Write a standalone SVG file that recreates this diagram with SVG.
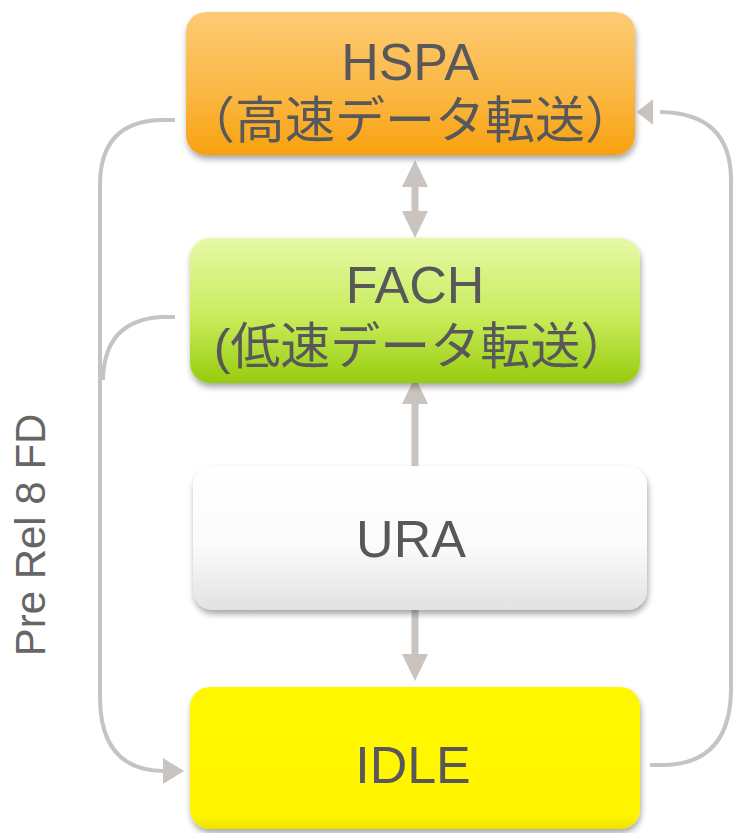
<svg xmlns="http://www.w3.org/2000/svg" width="734" height="833" viewBox="0 0 734 833">
  <defs>
    <style>
      .label { font-family: "Liberation Sans", "Noto Sans CJK JP", sans-serif; fill: #58585a; text-anchor: middle; }
      .big { font-size: 52px; }
      .jp { font-size: 50px; }
      .side { font-family: "Liberation Sans", sans-serif; font-size: 42px; fill: #666666; text-anchor: middle; }
      .wire { fill: none; stroke: #c4c4c4; stroke-width: 4; }
      .shaft { fill: none; stroke: #c9c4bf; stroke-width: 7; }
      .head { fill: #c9c4bf; }
    </style>
    <linearGradient id="gHspa" x1="0" y1="0" x2="0" y2="1">
      <stop offset="0" stop-color="#fdcb74"/>
      <stop offset="0.6" stop-color="#fbb640"/>
      <stop offset="1" stop-color="#f7a10f"/>
    </linearGradient>
    <linearGradient id="gFach" x1="0" y1="0" x2="0" y2="1">
      <stop offset="0" stop-color="#e6f9a6"/>
      <stop offset="0.55" stop-color="#c8ec5a"/>
      <stop offset="1" stop-color="#97cc0e"/>
    </linearGradient>
    <linearGradient id="gUra" x1="0" y1="0" x2="0" y2="1">
      <stop offset="0" stop-color="#ffffff"/>
      <stop offset="0.55" stop-color="#fbfbfb"/>
      <stop offset="1" stop-color="#e2e2e2"/>
    </linearGradient>
    <linearGradient id="gIdle" x1="0" y1="0" x2="0" y2="1">
      <stop offset="0" stop-color="#fff700"/>
      <stop offset="0.9" stop-color="#fff500"/>
      <stop offset="1" stop-color="#efe300"/>
    </linearGradient>
    <filter id="shadow" x="-10%" y="-10%" width="120%" height="130%">
      <feGaussianBlur in="SourceAlpha" stdDeviation="3"/>
      <feOffset dx="1" dy="4" result="b"/>
      <feComponentTransfer><feFuncA type="linear" slope="0.35"/></feComponentTransfer>
      <feMerge><feMergeNode/><feMergeNode in="SourceGraphic"/></feMerge>
    </filter>
  </defs>

  <rect width="734" height="833" fill="#ffffff"/>

  <!-- connectors -->
  <g id="connectors">
    <!-- HSPA left side down to IDLE -->
    <path class="wire" d="M175,120 L160,120 Q100,122 100,185 L100,697 Q100,770 163,771"/>
    <!-- FACH left side joining the trunk -->
    <path class="wire" d="M175,317 L162,317 Q104,320 103,380"/>
    <polygon class="head" points="184,771 163,758 163,784"/>
    <!-- IDLE right side back up to HSPA -->
    <path class="wire" d="M650,765 L665,765 Q731,763 731,688 L731,180 Q731,113 660,112"/>
    <polygon class="head" points="637,112 653,99 653,125"/>
    <!-- HSPA <-> FACH -->
    <line class="shaft" x1="415" y1="180" x2="415" y2="220"/>
    <polygon class="head" points="415,160 402,187 428,187"/>
    <polygon class="head" points="415,238 402,211 428,211"/>
    <!-- URA -> FACH -->
    <line class="shaft" x1="415" y1="400" x2="415" y2="467"/>
    <polygon class="head" points="415,377 402,404 428,404"/>
    <!-- URA -> IDLE -->
    <line class="shaft" x1="415" y1="610" x2="415" y2="660"/>
    <polygon class="head" points="415,681 402,654 428,654"/>
  </g>

  <g id="hspa">
    <rect x="186" y="12" width="449" height="143" rx="20" fill="url(#gHspa)" filter="url(#shadow)"/>
    <text class="label big" x="410" y="80">HSPA</text>
    <text class="label jp" x="410" y="138">（高速データ転送）</text>
  </g>

  <g id="fach">
    <rect x="190" y="238" width="450" height="145" rx="20" fill="url(#gFach)" filter="url(#shadow)"/>
    <text class="label big" x="415" y="303">FACH</text>
    <text class="label jp" x="422" y="364">(低速データ転送）</text>
  </g>

  <g id="ura">
    <rect x="193" y="466" width="454" height="144" rx="20" fill="url(#gUra)" filter="url(#shadow)"/>
    <text class="label big" x="411" y="557">URA</text>
  </g>

  <g id="idle">
    <rect x="190" y="687" width="450" height="142" rx="20" fill="url(#gIdle)" filter="url(#shadow)"/>
    <text class="label big" x="413" y="783">IDLE</text>
  </g>

  <text class="side" transform="translate(45,535) rotate(-90)">Pre Rel 8 FD</text>
</svg>
